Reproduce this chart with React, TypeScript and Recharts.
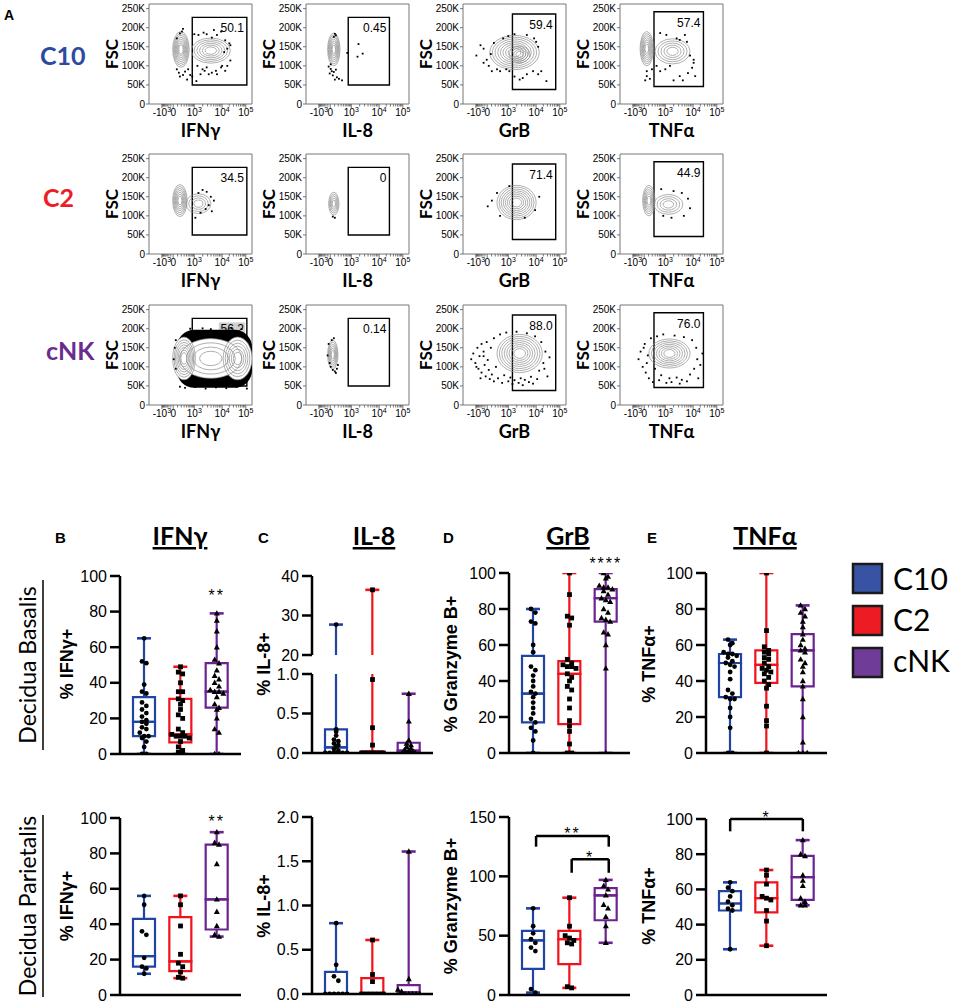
import React from 'react';
import {
  ComposedChart, ScatterChart, Scatter, Bar, XAxis, YAxis,
  ReferenceArea, ReferenceLine, ReferenceDot,
} from 'recharts';

const SANS = '"Liberation Sans", Arial, sans-serif';
const HUMAN = 'Lato, "Open Sans", sans-serif';

const GROUPS = ['C10', 'C2', 'cNK'];
const GROUP_COLORS = ['#1f44a3', '#f2121b', '#6a2390'];
const LEGEND_FILLS = ['#3953a4', '#ed1c24', '#6f3c97'];
const ROW_LABEL_COLORS = ['#2c4a9e', '#ee1c24', '#6a2c8f'];

// ---------- panel A: flow plots (x in display units 0-100, y = FSC in K) ----------
const MARKERS = ['IFNγ', 'IL-8', 'GrB', 'TNFα'];
const GATE_LABELS = [
  ['50.1', '0.45', '59.4', '57.4'],
  ['34.5', '0', '71.4', '44.9'],
  ['56.2', '0.14', '88.0', '76.0'],
];
// gate per marker: x1, x2, y1, y2
const GATES = [[42, 95, 50, 227], [41, 81, 50, 227], [48, 90, 38, 236], [33, 81, 46, 242]];

// contour groups: x, y, rx, ry, levels, whiteFill
const c10IfngRings = [[31, 143, 8, 47, 8], [60, 140, 19, 33, 6]];
const c10IfngDots = [
  [33, 197], [32, 190], [30, 185], [27, 172], [27, 91], [29, 82], [30, 72], [33, 76], [35, 85], [37, 64],
  [40, 76], [38, 91], [42, 72], [44, 183], [48, 181], [53, 187], [56, 183], [61, 174], [66, 181], [70, 190],
  [63, 194], [74, 167], [78, 159], [79, 154], [76, 145], [73, 136], [47, 100], [52, 91], [56, 96], [61, 82],
  [65, 87], [70, 96], [74, 87], [76, 100], [79, 114], [50, 78], [54, 87], [58, 78], [66, 78], [71, 100], [46, 60],
];
const c10Il8Rings = [[27, 143, 6, 43, 7]];
const c10Il8Dots = [
  [28, 184], [29, 180], [27, 176], [22, 98], [24, 92], [25, 86], [23, 80], [27, 84], [29, 90], [26, 75],
  [30, 70], [32, 66], [28, 64], [35, 62], [24, 104], [40, 134], [51, 157], [50, 124], [55, 132],
];
const c10GrbRings = [[50, 135, 24, 45, 8], [55, 130, 10, 22, 4]];
const c10GrbDots = [
  [13, 127], [20, 145], [23, 116], [25, 100], [28, 86], [33, 91], [36, 86], [39, 172], [42, 91], [45, 86],
  [20, 108], [27, 131], [17, 154], [50, 72], [55, 64], [62, 78], [68, 86], [73, 78], [76, 86], [81, 60],
  [71, 163], [73, 150], [62, 181], [50, 183], [69, 172], [58, 68], [30, 160], [44, 178],
];
const c10TnfRings = [[26, 145, 6.5, 45, 7], [51, 138, 17, 33, 5]];
const c10TnfDots = [
  [26, 73], [24.5, 62], [29, 66], [26, 86], [31, 91], [35.5, 100], [39, 86], [44, 91], [48.5, 100], [52, 62],
  [58, 73], [61, 62], [66, 81], [70, 95], [71.5, 108], [73, 73], [68, 127], [65, 163], [55, 172], [45, 181],
  [39, 186], [58, 168], [63, 181], [71.5, 116],
];

const c2IfngRings = [[30, 140, 7, 42, 7], [48, 132, 12, 26, 4]];
const c2IfngDots = [[52, 168], [56, 163], [60, 150], [63, 140], [58, 128], [55, 118], [50, 108], [61, 112], [48, 160], [45, 95]];
const c2Il8Rings = [[27, 132, 5, 30, 5]];
const c2Il8Dots = [[26, 98], [28, 95]];
const c2GrbRings = [[52, 135, 19, 45, 8]];
const c2GrbDots = [[28, 140], [24, 125], [33, 160], [36, 100], [70, 115], [74, 150], [60, 95], [45, 178]];
const c2TnfRings = [[28, 140, 6, 40, 6], [47, 130, 14, 26, 4]];
const c2TnfDots = [[40, 170], [52, 165], [60, 160], [66, 145], [68, 120], [62, 100], [50, 95], [42, 100]];

// dense (black) region: x, y, half-width, half-height
const cnkIfngMass = [[63.5, 121, 36.5, 76]];
const cnkIfngRings = [[34, 122, 11, 56, 7, 1], [60, 122, 30, 52, 4, 1], [86, 122, 14, 56, 6, 1]];
const cnkIfngDots = [
  [25, 150], [24, 120], [26, 95], [30, 48], [35, 45], [45, 47], [55, 43], [65, 46], [75, 44], [85, 47],
  [95, 43], [40, 200], [52, 201], [60, 199], [80, 201], [90, 199], [26, 170],
];
const cnkIl8Rings = [[26, 132, 5, 38, 6]];
const cnkIl8Dots = [[22, 160], [24, 100], [26, 92], [28, 88], [30, 95], [23, 110], [25, 170], [27, 175], [29, 84], [21, 130], [31, 105]];
const cnkGrbRings = [[55, 135, 22, 50, 8]];
const cnkGrbDots = [
  [8, 120], [10, 135], [12, 110], [14, 150], [15, 95], [16, 128], [18, 160], [18, 85], [20, 140], [21, 105],
  [22, 75], [23, 165], [24, 118], [25, 92], [26, 68], [27, 150], [28, 80], [30, 175], [30, 62], [32, 100],
  [34, 70], [36, 185], [38, 58], [40, 78], [42, 190], [44, 62], [46, 72], [48, 55], [50, 65], [52, 192],
  [54, 58], [56, 70], [58, 52], [60, 66], [62, 188], [64, 60], [66, 74], [68, 56], [70, 180], [72, 68],
  [74, 90], [76, 165], [78, 110], [80, 140], [82, 75], [84, 125], [79, 95], [20, 128], [13, 100], [17, 70],
];
const cnkTnfRings = [[48, 135, 20, 38, 7]];
const cnkTnfDots = [
  [18, 120], [20, 140], [22, 100], [24, 160], [25, 85], [27, 130], [28, 70], [30, 175], [32, 60], [34, 95],
  [36, 180], [38, 65], [40, 78], [42, 185], [45, 58], [48, 70], [50, 60], [53, 182], [55, 72], [58, 56],
  [60, 66], [62, 178], [65, 62], [68, 80], [70, 170], [72, 95], [74, 150], [75, 120], [76, 70], [78, 105],
  [80, 135], [23, 150], [26, 110],
];

const FLOW_DATA = [
  [
    { dots: c10IfngDots, rings: c10IfngRings }, { dots: c10Il8Dots, rings: c10Il8Rings },
    { dots: c10GrbDots, rings: c10GrbRings }, { dots: c10TnfDots, rings: c10TnfRings },
  ],
  [
    { dots: c2IfngDots, rings: c2IfngRings }, { dots: c2Il8Dots, rings: c2Il8Rings },
    { dots: c2GrbDots, rings: c2GrbRings }, { dots: c2TnfDots, rings: c2TnfRings },
  ],
  [
    { dots: cnkIfngDots, rings: cnkIfngRings, mass: cnkIfngMass, labelBg: true }, { dots: cnkIl8Dots, rings: cnkIl8Rings },
    { dots: cnkGrbDots, rings: cnkGrbRings }, { dots: cnkTnfDots, rings: cnkTnfRings },
  ],
];

// ---------- panels B-E: [min, q1, median, q3, max] for C10, C2, cNK ----------
const ifngBasalisBox = [[0, 10, 18, 32, 65], [0, 6.5, 11, 31, 49], [0, 26, 35, 51, 79]];
const ifngBasalisPts = [
  [65, 52, 51, 39, 35, 34, 29, 27, 25, 23, 21, 19, 18, 17, 15, 14, 12, 10, 10, 9, 7, 4, 0, 0],
  [49, 46, 45, 40, 35, 35, 31, 30, 28, 25, 22, 20, 14, 12, 11, 10, 10, 10, 9, 7, 4, 2, 1, 0],
  [79, 75, 69, 60, 53, 51, 47, 44, 42, 40, 38, 36, 35, 35, 34, 32, 28, 26, 25, 20, 14, 12, 0, 0],
];
const il8BasalisBox = [[0, 0, 0.07, 0.3, 27.7], [0, 0, 0, 0.02, 36.5], [0, 0, 0.03, 0.13, 0.75]];
const il8BasalisPts = [
  [27.7, 0.3, 0.27, 0.22, 0.17, 0.15, 0.12, 0.1, 0.08, 0.05, 0.03, 0, 0, 0, 0, 0, 0],
  [36.5, 0.93, 0.32, 0.1, 0, 0, 0, 0, 0, 0, 0, 0],
  [0.75, 0.4, 0.16, 0.12, 0.1, 0.08, 0.06, 0.04, 0.03, 0.02, 0, 0, 0, 0],
];
const grbBasalisBox = [[0, 17, 33, 54, 80], [0, 16, 44, 51, 100], [0, 73, 86, 91, 100]];
const grbBasalisPts = [
  [80, 78, 73, 72, 60, 56, 48, 46, 43, 40, 37, 34, 33, 31, 28, 25, 22, 19, 17, 14, 12, 7, 0],
  [100, 88, 76, 75, 71, 52, 50, 49, 48, 48, 47, 44, 42, 40, 37, 35, 30, 25, 18, 15, 12, 5, 0, 0],
  [100, 98, 97, 93, 92, 92, 91, 90, 88, 86, 85, 84, 80, 78, 75, 74, 73, 67, 66, 60, 47, 0],
];
const tnfBasalisBox = [[0, 31, 50, 55, 63], [0, 39, 49, 57, 100], [0, 37, 57, 66, 82]];
const tnfBasalisPts = [
  [63, 61, 60, 56, 55, 55, 54, 53, 51, 50, 49, 48, 45, 41, 35, 33, 31, 30, 30, 25, 20, 14, 0, 0],
  [100, 68, 59, 57, 56, 55, 53, 52, 50, 48, 47, 46, 45, 44, 42, 40, 38, 36, 26, 18, 15, 0],
  [82, 80, 78, 76, 73, 70, 66, 63, 60, 58, 57, 56, 52, 50, 48, 45, 40, 37, 30, 20, 6, 0, 0, 0],
];
const ifngParietalisBox = [[12, 16, 22, 43, 56], [9.5, 13.5, 19, 44, 56], [33, 37, 54, 85, 92]];
const ifngParietalisPts = [
  [56, 51, 36, 34, 21, 16, 15, 12],
  [56, 51, 39, 23, 18, 16, 13, 10, 9.5],
  [92, 86, 85, 74, 54, 47, 39, 34, 33],
];
const il8ParietalisBox = [[0, 0, 0, 0.25, 0.8], [0, 0, 0, 0.18, 0.61], [0, 0, 0.02, 0.1, 1.61]];
const il8ParietalisPts = [
  [0.8, 0.33, 0.2, 0.15, 0, 0, 0, 0, 0, 0],
  [0.61, 0.22, 0.14, 0, 0, 0, 0, 0, 0],
  [1.61, 0.17, 0.05, 0.03, 0, 0, 0, 0, 0],
];
const grbParietalisBox = [[2, 22, 46, 54, 73], [6, 26, 47, 54, 82], [44, 63, 84, 90, 97]];
const grbParietalisPts = [
  [73, 58, 52, 47, 44, 40, 37, 5, 2],
  [82, 58, 50, 48, 46, 44, 43, 7, 6],
  [97, 92, 89, 84, 76, 73, 66, 58, 44],
];
const tnfParietalisBox = [[26, 48, 52, 59, 64], [28, 47, 55, 64, 71], [51, 54, 67, 79, 88]];
const tnfParietalisPts = [
  [64, 61, 59, 56, 53, 51, 49, 48, 26],
  [71, 68, 63, 56, 55, 54, 48, 42, 28],
  [88, 80, 79, 68, 65, 62, 55, 53, 51, 51],
];

// ---------- flow plot ----------
const FLOW_W = 103;
const FLOW_H = 100;
const FLOW_YW = 36;
const FSC_MAX = 262.144;
const FLOW_COLS = [149, 306, 463, 620];
const FLOW_ROWS = [4, 154, 305];

const U_NEG = 12.5, U_ZERO = 23.5, U_E3 = 44, U_E4 = 71, U_E5 = 94;
const FLOW_MAJOR: [number, string, string][] = [
  [U_NEG, '-10', '3'], [U_ZERO, '0', ''], [U_E3, '10', '3'], [U_E4, '10', '4'], [U_E5, '10', '5'],
];
const FLOW_TICKS = (() => {
  const t: number[] = FLOW_MAJOR.map((m) => m[0]);
  for (let k = 2; k <= 9; k++) {
    t.push(U_E3 + (U_E4 - U_E3) * Math.log10(k));
    t.push(U_E4 + (U_E5 - U_E4) * Math.log10(k));
  }
  for (let k = 1; k <= 9; k++) {
    const f = Math.asinh((k * 100) / 200) / Math.asinh(5);
    t.push(U_ZERO + (U_E3 - U_ZERO) * f);
    t.push(U_ZERO - (U_ZERO - U_NEG) * f);
  }
  return t.sort((a, b) => a - b);
})();

function FlowTick(props: any) {
  const { x, y, payload } = props;
  const major = FLOW_MAJOR.find((m) => Math.abs(m[0] - payload.value) < 1e-6);
  return (
    <g>
      <line x1={x} x2={x} y1={y} y2={y + (major ? 4 : 2.5)} stroke="#555" strokeWidth={0.8} />
      {major && (
        <text x={x} y={y + 12} textAnchor="middle" fontSize={10} fontFamily={SANS} fill="#000">
          {major[1]}
          {major[2] && <tspan dy={-4} fontSize={7}>{major[2]}</tspan>}
        </text>
      )}
    </g>
  );
}

function FlowPlot({ left, top, dots, rings, mass = [], gate, gateLabel, labelBg = false }: any) {
  const kx = FLOW_W / 100;
  const ky = FLOW_H / FSC_MAX;
  const dotData = dots.map(([x, y]: number[]) => ({ x, y }));
  const ringData = rings.map(([x, y, rx, ry, n, white]: number[]) => ({ x, y, rx, ry, n, white: !!white }));
  const massData = mass.map(([x, y, hw, hh]: number[]) => ({ x, y, hw, hh }));

  const massShape = (p: any) => {
    const w = p.payload.hw * kx;
    const h = p.payload.hh * ky;
    return <rect x={p.cx - w} y={p.cy - h} width={2 * w} height={2 * h} rx={Math.min(w, h) * 0.6} fill="#000" />;
  };
  const fillShape = (p: any) => {
    const d = p.payload;
    if (!d.white) return <g />;
    return <ellipse cx={p.cx} cy={p.cy} rx={d.rx * kx} ry={d.ry * ky} fill="#fff" />;
  };
  const ringShape = (p: any) => {
    const d = p.payload;
    const els = [];
    for (let i = 0; i < d.n; i++) {
      const f = 1 - (i / d.n) * 0.85;
      els.push(
        <ellipse key={i} cx={p.cx} cy={p.cy} rx={d.rx * kx * f} ry={d.ry * ky * f}
          fill="none" stroke="#8c8c8c" strokeWidth={0.7} />,
      );
    }
    return <g>{els}</g>;
  };
  const dotShape = (p: any) => <rect x={p.cx - 0.9} y={p.cy - 0.9} width={1.8} height={1.8} fill="#000" />;
  const gateLabelContent = (p: any) => {
    const vb = p.viewBox;
    const rx = vb.x + vb.width - 3;
    const ty = vb.y + 15;
    return (
      <g>
        {labelBg && <rect x={rx - 25} y={ty - 11} width={26} height={14} fill="#d0d0d0" />}
        <text x={rx} y={ty} textAnchor="end" fontSize={12} fontFamily={SANS} fill="#000">{gateLabel}</text>
      </g>
    );
  };

  return (
    <div style={{ position: 'absolute', left: left - FLOW_YW, top: top - 2 }}>
      <ScatterChart width={FLOW_YW + FLOW_W + 6} height={2 + FLOW_H + 22}
        margin={{ top: 2, right: 6, bottom: 0, left: 0 }}>
        <XAxis type="number" dataKey="x" domain={[0, 100]} ticks={FLOW_TICKS} interval={0}
          tick={<FlowTick />} tickLine={false} axisLine={false} tickSize={0} tickMargin={0}
          height={22} allowDataOverflow />
        <YAxis type="number" dataKey="y" domain={[0, FSC_MAX]} ticks={[0, 50, 100, 150, 200, 250]}
          interval={0} tickFormatter={(v: number) => (v === 0 ? '0' : `${v}K`)}
          width={FLOW_YW} tickSize={3} tickMargin={1} axisLine={false}
          tickLine={{ stroke: '#555', strokeWidth: 0.8 }}
          tick={{ fontSize: 10, fill: '#000', fontFamily: SANS }} allowDataOverflow />
        <ReferenceArea x1={0} x2={100} y1={0} y2={FSC_MAX} fill="#fff" fillOpacity={0}
          stroke="#777" strokeWidth={1} ifOverflow="visible" />
        {massData.length > 0 && <Scatter data={massData} shape={massShape} isAnimationActive={false} />}
        <Scatter data={ringData} shape={fillShape} isAnimationActive={false} />
        <Scatter data={ringData} shape={ringShape} isAnimationActive={false} />
        <Scatter data={dotData} shape={dotShape} isAnimationActive={false} />
        <ReferenceArea x1={gate[0]} x2={gate[1]} y1={gate[2]} y2={gate[3]} fill="#fff" fillOpacity={0}
          stroke="#000" strokeWidth={1.4} ifOverflow="visible" label={gateLabelContent} />
      </ScatterChart>
    </div>
  );
}

// ---------- box plot panel ----------
const BOX_YW = 56;
const BOX_PW = 121;
const BOX_MT = 30;
const BOX_MB = 16;

function swarm(values: number[], gi: number, span: number) {
  const s = [...values].sort((a, b) => b - a);
  const out: { x: number; y: number }[] = [];
  let i = 0;
  while (i < s.length) {
    let j = i;
    while (j + 1 < s.length && s[i] - s[j + 1] <= span * 0.028) j++;
    const k = j - i + 1;
    const w = Math.min(0.12, 0.6 / Math.max(k - 1, 1));
    for (let m = 0; m < k; m++) out.push({ x: gi + 0.5 + (m - (k - 1) / 2) * w, y: s[i + m] });
    i = j + 1;
  }
  return out;
}

function BoxPanel(props: any) {
  const {
    axisX, topY, plotH, domain, ticks, decimals = 0, stats, points,
    showX = true, stars = [], brackets = [],
  } = props;
  const span = domain[1] - domain[0];
  const rows = GROUPS.map((name, i) => {
    const [mn, q1, md, q3, mx] = stats[i];
    return { name, base: mn, wLow: q1 - mn, bLow: md - q1, bHigh: q3 - md, wHigh: mx - q3, st: stats[i] };
  });
  const clipTop = BOX_MT;
  const clipBot = BOX_MT + plotH;

  const segShape = (kind: string) => (p: any) => {
    const { x, y, width, height, payload } = p;
    const [mn, q1, md, q3, mx] = payload.st;
    const lo = kind === 'wl' ? mn : kind === 'bl' ? q1 : kind === 'bh' ? md : q3;
    const hi = kind === 'wl' ? q1 : kind === 'bl' ? md : kind === 'bh' ? q3 : mx;
    if (hi < domain[0] || lo > domain[1]) return <g />;
    const c = GROUP_COLORS[GROUPS.indexOf(payload.name)];
    const top = Math.max(Math.min(y, y + height), clipTop);
    const bot = Math.min(Math.max(y, y + height), clipBot);
    const mid = x + width / 2;
    if (kind === 'bl' || kind === 'bh') {
      return <path d={`M${x},${top}H${x + width}V${bot}H${x}Z`} fill="none" stroke={c} strokeWidth={2.2} />;
    }
    const capOn = kind === 'wl' ? mn >= domain[0] : mx <= domain[1];
    const capY = kind === 'wl' ? bot : top;
    return (
      <g>
        <line x1={mid} x2={mid} y1={top} y2={bot} stroke={c} strokeWidth={2.2} />
        {capOn && <line x1={mid - 7} x2={mid + 7} y1={capY} y2={capY} stroke={c} strokeWidth={2.6} />}
      </g>
    );
  };

  const marker = (gi: number) => (p: any) => {
    const { cx, cy } = p;
    if (gi === 0) return <circle cx={cx} cy={cy} r={2.4} fill="#000" />;
    if (gi === 1) return <rect x={cx - 2.4} y={cy - 2.4} width={4.8} height={4.8} fill="#000" />;
    return <path d={`M${cx},${cy - 3.2}L${cx + 3},${cy + 2.2}L${cx - 3},${cy + 2.2}Z`} fill="#000" />;
  };

  const inDom = (v: number) => v >= domain[0] - span * 0.005 && v <= domain[1] + span * 0.005;
  const pts = points.map((vals: number[], gi: number) => swarm(vals.filter(inDom), gi, span));
  const axisStyle = { stroke: '#000', strokeWidth: 2.5 };

  return (
    <div style={{ position: 'absolute', left: axisX - BOX_YW, top: topY - BOX_MT }}>
      <ComposedChart width={BOX_YW + BOX_PW + 4} height={BOX_MT + plotH + 6 + BOX_MB} data={rows}
        margin={{ top: BOX_MT, right: 4, bottom: BOX_MB, left: 0 }}>
        <XAxis dataKey="name" type="category" tick={false} tickLine={false}
          axisLine={showX ? axisStyle : false} height={6} padding={{ left: 6, right: 6 }} />
        <XAxis xAxisId="pts" dataKey="x" type="number" domain={[0, 3]} hide
          padding={{ left: 6, right: 6 }} allowDataOverflow />
        <YAxis dataKey="y" type="number" domain={domain} ticks={ticks} interval={0} allowDataOverflow
          width={BOX_YW} tickSize={10} tickMargin={3} axisLine={axisStyle} tickLine={axisStyle}
          tickFormatter={(v: number) => v.toFixed(decimals)}
          tick={{ fontSize: 16, fill: '#000', fontFamily: SANS }} />
        <Bar dataKey="base" stackId="box" barSize={22} fill="transparent" shape={() => <g />} isAnimationActive={false} />
        <Bar dataKey="wLow" stackId="box" barSize={22} shape={segShape('wl')} isAnimationActive={false} />
        <Bar dataKey="bLow" stackId="box" barSize={22} shape={segShape('bl')} isAnimationActive={false} />
        <Bar dataKey="bHigh" stackId="box" barSize={22} shape={segShape('bh')} isAnimationActive={false} />
        <Bar dataKey="wHigh" stackId="box" barSize={22} shape={segShape('wh')} isAnimationActive={false} />
        {GROUPS.map((g, gi) => (
          <Scatter key={g} xAxisId="pts" data={pts[gi]} shape={marker(gi)} isAnimationActive={false} />
        ))}
        {brackets.map(([x1, x2, yTop, yLeg]: number[], bi: number) => [
          <ReferenceLine key={`h${bi}`} xAxisId="pts" ifOverflow="visible" stroke="#000" strokeWidth={2.5}
            segment={[{ x: x1, y: yTop }, { x: x2, y: yTop }]} />,
          <ReferenceLine key={`l${bi}`} xAxisId="pts" ifOverflow="visible" stroke="#000" strokeWidth={2.5}
            segment={[{ x: x1, y: yTop }, { x: x1, y: yLeg }]} />,
          <ReferenceLine key={`r${bi}`} xAxisId="pts" ifOverflow="visible" stroke="#000" strokeWidth={2.5}
            segment={[{ x: x2, y: yTop }, { x: x2, y: yLeg }]} />,
        ])}
        {stars.map(([sx, sy, txt]: any[], si: number) => (
          <ReferenceDot key={`s${si}`} xAxisId="pts" x={sx} y={sy} r={0} ifOverflow="visible"
            shape={(p: any) => (
              <text x={p.cx} y={p.cy + 9} textAnchor="middle" fontSize={16} letterSpacing={2}
                fontFamily={SANS} fill="#000">{txt}</text>
            )} />
        ))}
      </ComposedChart>
    </div>
  );
}

// ---------- static text ----------
function Overlay() {
  const yLabels = [
    { x: 73, t: '% IFNγ+' }, { x: 270, t: '% IL-8+' }, { x: 457, t: '% Granzyme B+' }, { x: 655, t: '% TNFα+' },
  ];
  const titles = [
    { x: 180, t: 'IFNγ', l: 'B', lx: 55 }, { x: 374, t: 'IL-8', l: 'C', lx: 258 },
    { x: 568, t: 'GrB', l: 'D', lx: 443 }, { x: 765, t: 'TNFα', l: 'E', lx: 647 },
  ];
  const rowLabelPos = [[40, 65], [43, 207], [46, 360]];
  return (
    <svg width={957} height={1008} style={{ position: 'absolute', left: 0, top: 0, pointerEvents: 'none' }}>
      <text x={4} y={20} fontFamily={SANS} fontWeight="bold" fontSize={14}>A</text>
      {GROUPS.map((g, i) => (
        <text key={g} x={rowLabelPos[i][0]} y={rowLabelPos[i][1]} fontFamily={HUMAN} fontWeight="bold"
          fontSize={25} fill={ROW_LABEL_COLORS[i]}>{g}</text>
      ))}
      {FLOW_ROWS.map((top) => FLOW_COLS.map((left, ci) => {
        const cy = top + FLOW_H / 2;
        const fx = left - 31;
        return (
          <g key={`${top}-${left}`}>
            <text x={left + FLOW_W / 2} y={top + FLOW_H + 33} textAnchor="middle" fontFamily={HUMAN}
              fontWeight="bold" fontSize={18}>{MARKERS[ci]}</text>
            <text x={fx} y={cy} transform={`rotate(-90 ${fx} ${cy})`} textAnchor="middle" fontFamily={HUMAN}
              fontWeight="bold" fontSize={17}>FSC</text>
          </g>
        );
      }))}
      {titles.map((t) => (
        <g key={t.t}>
          <text x={t.lx} y={543} fontFamily={SANS} fontWeight="bold" fontSize={15}>{t.l}</text>
          <text x={t.x} y={545} textAnchor="middle" fontFamily={HUMAN} fontWeight="bold" fontSize={25}
            textDecoration="underline">{t.t}</text>
        </g>
      ))}
      {[664, 906].map((cy) => yLabels.map((l) => (
        <text key={`${cy}-${l.t}`} x={l.x} y={cy} transform={`rotate(-90 ${l.x} ${cy})`} textAnchor="middle"
          fontFamily={SANS} fontWeight="bold" fontSize={18}>{l.t}</text>
      )))}
      <text x={36} y={665} transform="rotate(-90 36 665)" textAnchor="middle" fontFamily={HUMAN} fontSize={23}>Decidua Basalis</text>
      <line x1={43} x2={43} y1={580} y2={750} stroke="#000" strokeWidth={1.5} />
      <text x={36} y={906} transform="rotate(-90 36 906)" textAnchor="middle" fontFamily={HUMAN} fontSize={23}>Decidua Parietalis</text>
      <line x1={43} x2={43} y1={815} y2={997} stroke="#000" strokeWidth={1.5} />
      {GROUPS.map((g, i) => (
        <g key={`lg${g}`}>
          <rect x={853} y={564 + i * 42} width={29} height={29} fill={LEGEND_FILLS[i]} stroke="#1a1a1a" strokeWidth={2.5} />
          <text x={893} y={590 + i * 41} fontFamily={HUMAN} fontSize={30} fill="#000">{g}</text>
        </g>
      ))}
    </svg>
  );
}

export default function App() {
  return (
    <div style={{ position: 'absolute', left: 0, top: 0, width: 957, height: 1008, background: '#fff', overflow: 'hidden' }}>
      {FLOW_ROWS.map((top, ri) => FLOW_COLS.map((left, ci) => (
        <FlowPlot key={`${ri}-${ci}`} left={left} top={top} {...FLOW_DATA[ri][ci]}
          gate={GATES[ci]} gateLabel={GATE_LABELS[ri][ci]} />
      )))}

      <BoxPanel axisX={120} topY={576} plotH={178} domain={[0, 100]} ticks={[0, 20, 40, 60, 80, 100]}
        stats={ifngBasalisBox} points={ifngBasalisPts} stars={[[2.5, 91, '**']]} />
      <BoxPanel axisX={312} topY={576} plotH={79} domain={[20, 40]} ticks={[20, 30, 40]} showX={false}
        stats={il8BasalisBox} points={il8BasalisPts} />
      <BoxPanel axisX={312} topY={674} plotH={79} domain={[0, 1]} ticks={[0, 0.5, 1]} decimals={1}
        stats={il8BasalisBox} points={il8BasalisPts} />
      <BoxPanel axisX={509} topY={573} plotH={180} domain={[0, 100]} ticks={[0, 20, 40, 60, 80, 100]}
        stats={grbBasalisBox} points={grbBasalisPts} stars={[[2.5, 107, '****']]} />
      <BoxPanel axisX={706} topY={573} plotH={180} domain={[0, 100]} ticks={[0, 20, 40, 60, 80, 100]}
        stats={tnfBasalisBox} points={tnfBasalisPts} />

      <BoxPanel axisX={120} topY={818} plotH={177} domain={[0, 100]} ticks={[0, 20, 40, 60, 80, 100]}
        stats={ifngParietalisBox} points={ifngParietalisPts} stars={[[2.5, 100, '**']]} />
      <BoxPanel axisX={312} topY={817} plotH={177} domain={[0, 2]} ticks={[0, 0.5, 1, 1.5, 2]} decimals={1}
        stats={il8ParietalisBox} points={il8ParietalisPts} />
      <BoxPanel axisX={509} topY={817} plotH={178} domain={[0, 150]} ticks={[0, 50, 100, 150]}
        stats={grbParietalisBox} points={grbParietalisPts}
        brackets={[[0.58, 2.58, 134, 125], [1.56, 2.58, 114.5, 103]]}
        stars={[[1.58, 139, '**'], [2.07, 119, '*']]} />
      <BoxPanel axisX={706} topY={819} plotH={176} domain={[0, 100]} ticks={[0, 20, 40, 60, 80, 100]}
        stats={tnfParietalisBox} points={tnfParietalisPts}
        brackets={[[0.5, 2.5, 100, 93]]} stars={[[1.5, 103, '*']]} />

      <Overlay />
    </div>
  );
}
